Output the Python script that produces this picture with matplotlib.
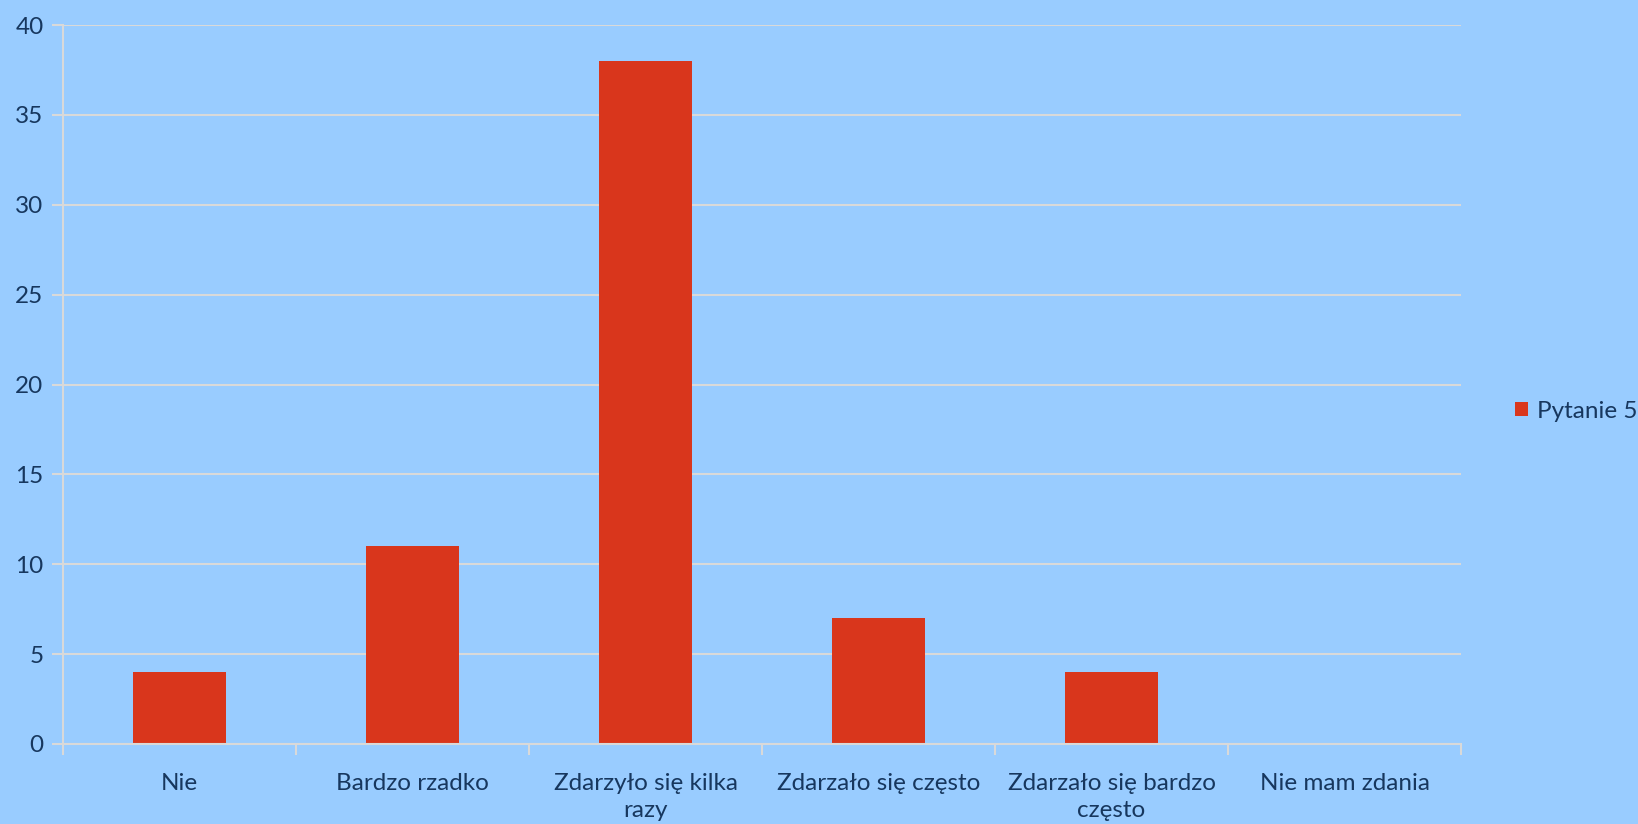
import matplotlib
matplotlib.use("Agg")
import matplotlib.pyplot as plt
import numpy as np

categories = ["Nie", "Bardzo rzadko", "Zdarzyło się kilka\nrazy", "Zdarzało się często",
              "Zdarzało się bardzo\nczęsto", "Nie mam zdania"]
values = [4, 11, 38, 7, 4, 0]
series_name = "Pytanie 5"
yticks = [0, 5, 10, 15, 20, 25, 30, 35, 40]

bg = "#99CCFF"
bar_color = "#D9361C"
text_color = "#17375E"
grid_color = "#D9D9D9"

plt.rcParams['font.family'] = ['Lato', 'DejaVu Sans']

fig = plt.figure(figsize=(16.38, 8.24), dpi=100, facecolor=bg)
ax = fig.add_axes([63/1638, 1-744/824, (1461-63)/1638, (744-25)/824])
ax.set_facecolor(bg)

x = np.arange(len(categories))
ax.bar(x, values, width=0.4, color=bar_color, label=series_name, zorder=3)

ax.set_xlim(-0.5, len(categories)-0.5)
ax.set_ylim(0, 40)
ax.set_yticks(yticks)
ax.yaxis.grid(True, color=grid_color, linewidth=1.5, zorder=0)
ax.tick_params(axis='y', colors=grid_color, length=8, width=1.5, labelsize=17.5, labelcolor=text_color, pad=6)
for t in ax.get_yticklabels():
    t.set_color(text_color)

ax.set_xticks(x)
ax.set_xticklabels(categories, fontsize=17.5, color=text_color, linespacing=1.35, va='top')
ax.tick_params(axis='x', length=0, pad=21)
ax.set_xticks(np.arange(len(categories)+1)-0.5, minor=True)
ax.tick_params(axis='x', which='minor', length=8, width=1.5, color=grid_color)

for s in ['top', 'right']:
    ax.spines[s].set_visible(False)
for s in ['left', 'bottom']:
    ax.spines[s].set_color(grid_color)
    ax.spines[s].set_linewidth(1.5)
ax.spines['bottom'].set_zorder(4)

leg = fig.legend(loc='center left', bbox_to_anchor=(1515/1638, 1-411/824), frameon=False,
                 fontsize=17.5, handlelength=0.55, handleheight=0.55, handletextpad=0.35,
                 borderaxespad=0, borderpad=0)
for t in leg.get_texts():
    t.set_color(text_color)

fig.savefig("out.png", dpi=100, facecolor=bg)
